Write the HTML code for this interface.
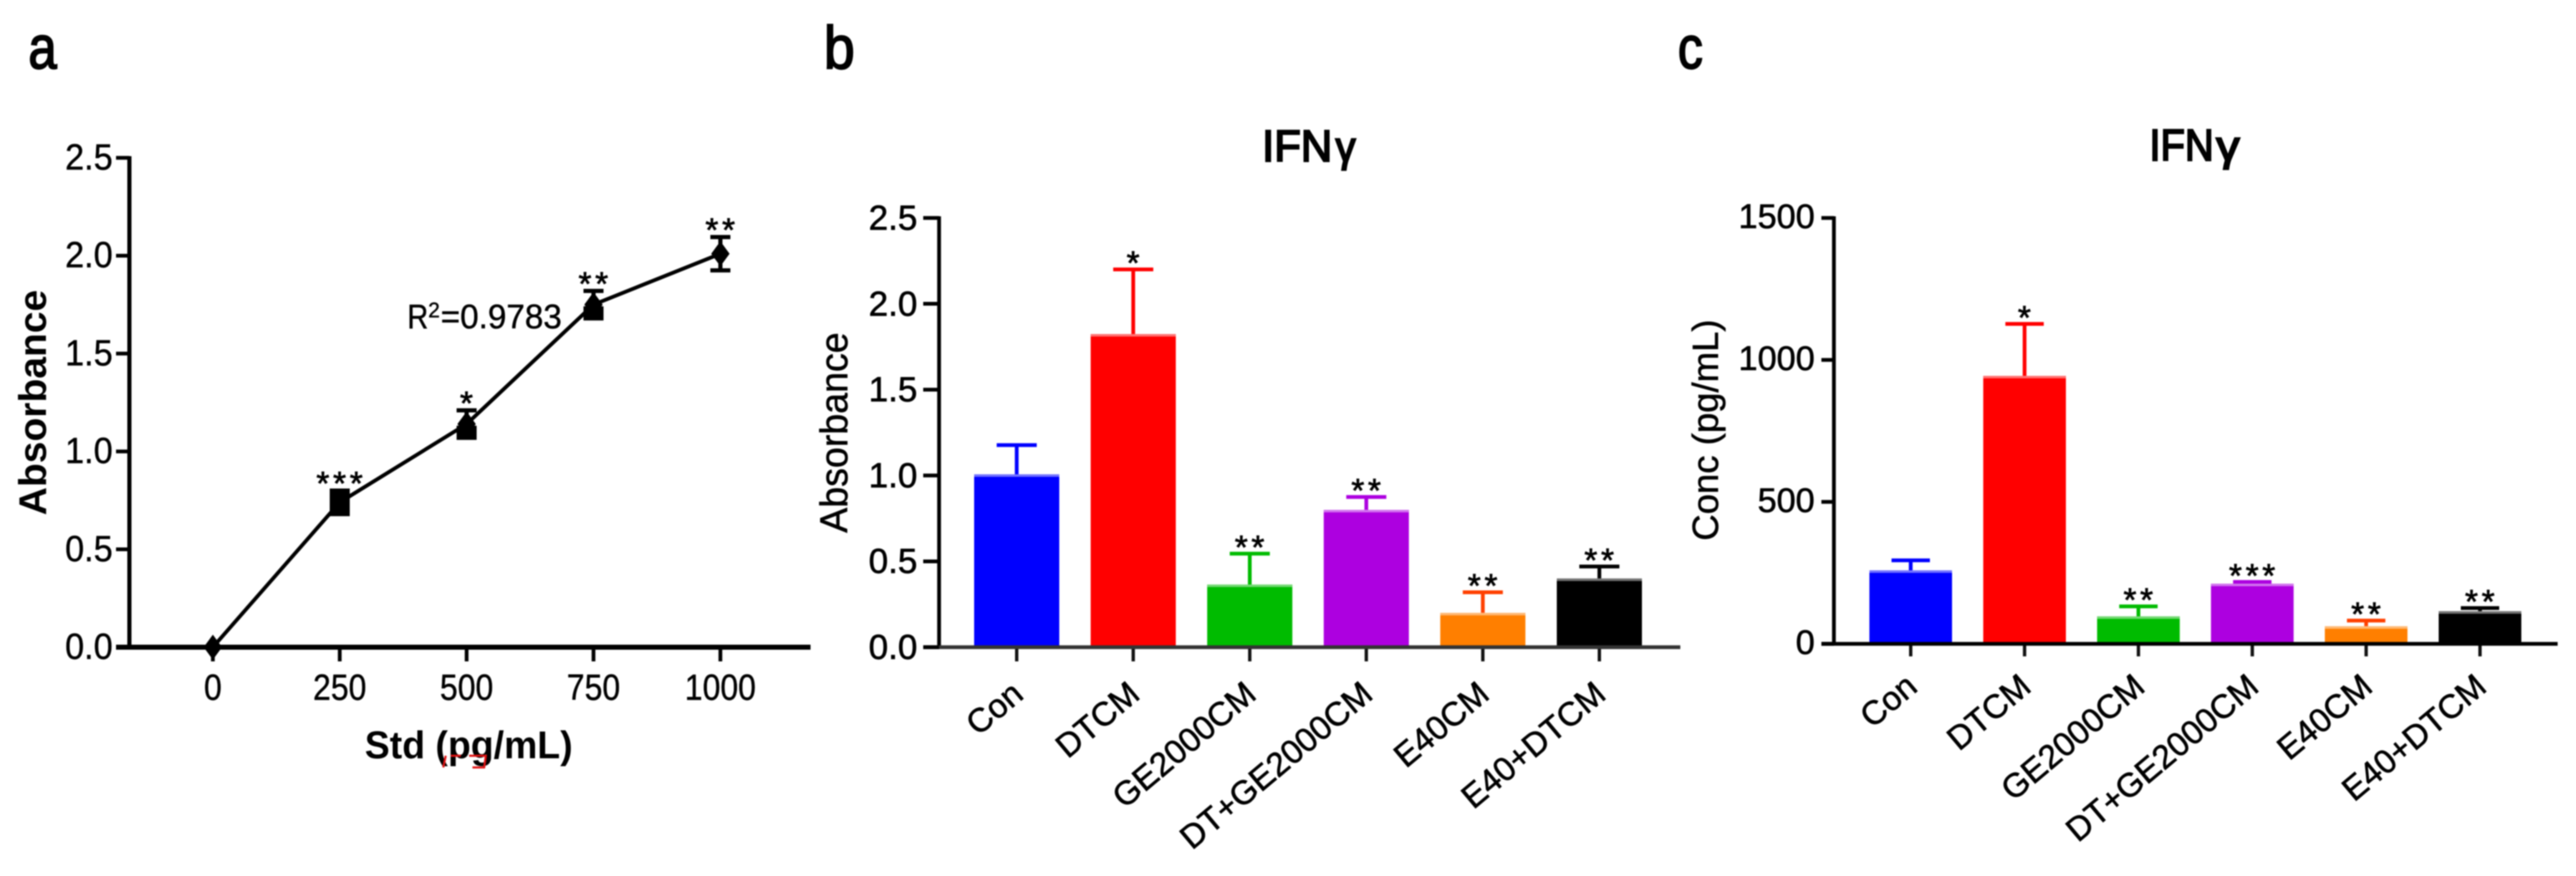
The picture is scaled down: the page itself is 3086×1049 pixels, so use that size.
<!DOCTYPE html>
<html lang="en">
<head>
<meta charset="utf-8">
<title>IFN-gamma absorbance and concentration charts</title>
<style>
html,body{margin:0;padding:0;background:#fff;width:3086px;height:1049px;overflow:hidden}
svg{display:block;filter:blur(0.7px)}
text{font-family:"Liberation Sans",sans-serif;fill:#000}
</style>
</head>
<body>
<svg id="figure" xmlns="http://www.w3.org/2000/svg" width="3086" height="1049" viewBox="0 0 3086 1049">
  <rect x="0" y="0" width="3086" height="1049" fill="#ffffff"/>
  <text x="34" y="82" font-size="72" stroke="#000" stroke-width="2" textLength="34" lengthAdjust="spacingAndGlyphs">a</text>
  <text x="987" y="82" font-size="72" stroke="#000" stroke-width="2" textLength="37" lengthAdjust="spacingAndGlyphs">b</text>
  <text x="2010" y="82" font-size="72" stroke="#000" stroke-width="2" textLength="30" lengthAdjust="spacingAndGlyphs">c</text>

  <text font-size="53" stroke="#000" stroke-width="2.2"><tspan x="1512" y="193" textLength="84" lengthAdjust="spacingAndGlyphs">IFN</tspan><tspan x="1600" y="193" font-size="50" textLength="24" lengthAdjust="spacingAndGlyphs">γ</tspan></text>
  <text font-size="53" stroke="#000" stroke-width="2.2"><tspan x="2575" y="192" textLength="77" lengthAdjust="spacingAndGlyphs">IFN</tspan><tspan x="2655" y="192" font-size="50" textLength="28" lengthAdjust="spacingAndGlyphs">γ</tspan></text>

  <text transform="translate(55 482) rotate(-90)" text-anchor="middle" font-size="46" font-weight="bold" textLength="270" lengthAdjust="spacingAndGlyphs">Absorbance</text>
  <text transform="translate(1015 518) rotate(-90)" text-anchor="middle" font-size="46" stroke="#000" stroke-width="0.6" textLength="240" lengthAdjust="spacingAndGlyphs">Absorbance</text>
  <text transform="translate(2058 515) rotate(-90)" text-anchor="middle" font-size="44" stroke="#000" stroke-width="0.6" textLength="265" lengthAdjust="spacingAndGlyphs">Conc (pg/mL)</text>

  <text x="437" y="908" font-size="46" font-weight="bold" textLength="249" lengthAdjust="spacingAndGlyphs">Std (pg/mL)</text>
  <path d="M531 919 L534 905 M540 905 L552 905 M562 905 L582 905 L580 919 L566 919" fill="none" stroke="#e01010" stroke-width="2.5"/>

  <text font-size="41" stroke="#000" stroke-width="0.5"><tspan x="488" y="393" textLength="25" lengthAdjust="spacingAndGlyphs">R</tspan><tspan x="513" y="380" font-size="25">2</tspan><tspan x="528" y="393" textLength="145" lengthAdjust="spacingAndGlyphs">=0.9783</tspan></text>

  <g id="chart-a"></g>
  <g id="chart-b"></g>
  <g id="chart-c"></g>
</svg>

<script>
// Chart a: standard curve
const stdLevels = [0, 250, 500, 750, 1000];
const stdAbsorbance = [0, 0.74, 1.14, 1.75, 2.01];
const stdError = [0, 0.06, 0.07, 0.07, 0.085];
const stdStars = ['', '***', '*', '**', '**'];
const stdYTicks = [0, 0.5, 1, 1.5, 2, 2.5];
const stdYTickLabels = ['0.0', '0.5', '1.0', '1.5', '2.0', '2.5'];
const stdXTickLabels = ['0', '250', '500', '750', '1000'];

// Charts b and c: shared categories
const groupNames = ['Con', 'DTCM', 'GE2000CM', 'DT+GE2000CM', 'E40CM', 'E40+DTCM'];

// Chart b values
const absMeans = [1.007, 1.824, 0.365, 0.80, 0.20, 0.40];
const absErrTops = [1.177, 2.20, 0.545, 0.875, 0.32, 0.47];
const absStars = ['', '*', '**', '**', '**', '**'];
const absTicks = [0, 0.5, 1, 1.5, 2, 2.5];
const absTickLabels = ['0.0', '0.5', '1.0', '1.5', '2.0', '2.5'];

// Chart c values
const concMeans = [259, 944, 97, 212, 62, 115];
const concErrTops = [294, 1127, 132, 218, 82, 126];
const concStars = ['', '*', '**', '***', '**', '**'];
const concTicks = [0, 500, 1000, 1500];
const concTickLabels = ['0', '500', '1000', '1500'];

// Palette
const barColors = ['#0000ff', '#ff0000', '#00bb00', '#ad00e0', '#ff7f00', '#000000'];
const errColors = ['#0000ff', '#ff0000', '#00bb00', '#ad00e0', '#ff4000', '#000000'];

const NS = 'http://www.w3.org/2000/svg';
function mk(parent, tag, props, content) {
  const el = document.createElementNS(NS, tag);
  for (const k in props) el.setAttribute(k, props[k]);
  if (content !== undefined) el.textContent = content;
  parent.appendChild(el);
  return el;
}
function slug(s) {
  return String(s).toLowerCase().replace(/[^a-z0-9]+/g, '-');
}

function drawCurve() {
  const g = document.getElementById('chart-a');
  const y = v => 775 - v * 234.4;
  const x = v => 255 + v * 0.608;

  const yAxis = mk(g, 'line', {x1: 155, x2: 155, y1: y(2.5) - 2, y2: y(0), stroke: '#000', 'stroke-width': 5});
  
  
  const xAxis = mk(g, 'line', {x1: 139, x2: 971, y1: y(0), y2: y(0), stroke: '#000', 'stroke-width': 6});
  
  

  stdYTicks.forEach((v, i) => {
    const tick = mk(g, 'line', {x1: 139, x2: 155, y1: y(v), y2: y(v), stroke: '#000', 'stroke-width': 4.5});
    
    
    const label = mk(g, 'text', {x: 135, y: y(v) + 14, 'text-anchor': 'end', 'font-size': 44, stroke: '#000', 'stroke-width': 0.5, textLength: 57, lengthAdjust: 'spacingAndGlyphs'}, stdYTickLabels[i]);
    
    
  });

  stdLevels.forEach((v, i) => {
    const tick = mk(g, 'line', {x1: x(v), x2: x(v), y1: y(0), y2: 792, stroke: '#000', 'stroke-width': 4.5});
    
    
    const text = stdXTickLabels[i];
    const label = mk(g, 'text', {x: x(v), y: 838, 'text-anchor': 'middle', 'font-size': 44, stroke: '#000', 'stroke-width': 0.5, textLength: text.length * 21.3, lengthAdjust: 'spacingAndGlyphs'}, text);
    
    
  });

  const pts = stdLevels.map((v, i) => x(v) + ',' + y(stdAbsorbance[i])).join(' ');
  const line = mk(g, 'polyline', {points: pts, fill: 'none', stroke: '#000', 'stroke-width': 4.5});
  
  

  stdLevels.forEach((v, i) => {
    const cx = x(v);
    const cy = y(stdAbsorbance[i]);
    const top = y(stdAbsorbance[i] + stdError[i]);
    const bot = y(stdAbsorbance[i] - stdError[i]);
    if (stdError[i] > 0) {
      const err = mk(g, 'path', {d: `M${cx - 12} ${top}H${cx + 12}M${cx} ${top}V${bot}M${cx - 12} ${bot}H${cx + 12}`, fill: 'none', stroke: '#000', 'stroke-width': 5});
      
      
      // Narrow error bars close up around the marker into a solid block.
      const fillTop = stdError[i] <= 0.06 ? top : cy + 2;
      const fillBot = stdError[i] <= 0.07 ? bot : cy + 2;
      const block = mk(g, 'rect', {x: cx - 12, y: fillTop, width: 24, height: fillBot - fillTop, fill: '#000'});
      
      
    }
    const marker = mk(g, 'path', {d: `M${cx} ${cy - 15}L${cx + 11} ${cy}L${cx} ${cy + 15}L${cx - 11} ${cy}Z`, fill: '#000'});
    
    
    if (stdStars[i]) {
      const star = mk(g, 'text', {x: cx + 2, y: top - 18 + 23, 'text-anchor': 'middle', 'font-size': 40, 'letter-spacing': 4.4, stroke: '#000', 'stroke-width': 0.8}, stdStars[i]);
      
      
    }
  });
}

function drawBars(id, opt, means, errTops, stars, ticks, tickLabels) {
  const g = document.getElementById(id);
  const y = v => opt.y0 - v * opt.unit;
  const x = i => opt.first + i * opt.step;

  means.forEach((m, i) => {
    const err = mk(g, 'path', {d: `M${x(i)} ${y(m)}V${y(errTops[i])}M${x(i) - opt.cap} ${y(errTops[i])}H${x(i) + opt.cap}`, fill: 'none', stroke: errColors[i], 'stroke-width': 4.5});
    
    
    const bar = mk(g, 'rect', {x: x(i) - opt.barW / 2, y: y(m), width: opt.barW, height: opt.y0 - y(m), fill: barColors[i]});
    
    
    const band = mk(g, 'rect', {x: x(i) - opt.barW / 2, y: y(m), width: opt.barW, height: 3, fill: '#ffffff', 'fill-opacity': 0.45});
    
    
    const tick = mk(g, 'line', {x1: x(i), x2: x(i), y1: opt.y0, y2: opt.y0 + opt.tickLen, stroke: '#111', 'stroke-width': 4});
    
    
    const px = x(i) + 10;
    const label = mk(g, 'text', {x: px, y: opt.labelY, 'text-anchor': 'end', 'font-size': 40, stroke: '#000', 'stroke-width': 0.7, transform: `rotate(-40 ${px} ${opt.labelY})`}, groupNames[i]);
    
    
    if (stars[i]) {
      const star = mk(g, 'text', {x: x(i) + 2, y: y(errTops[i]) - 17 + 23, 'text-anchor': 'middle', 'font-size': 40, 'letter-spacing': 4.4, stroke: '#000', 'stroke-width': 0.8}, stars[i]);
      
      
    }
  });

  const yAxis = mk(g, 'line', {x1: opt.axisX, x2: opt.axisX, y1: y(opt.max) - 2, y2: opt.y0, stroke: '#000', 'stroke-width': 4.5});
  
  
  const xAxis = mk(g, 'line', {x1: opt.xStart, x2: opt.xEnd, y1: opt.y0, y2: opt.y0, stroke: opt.xAxisColor, 'stroke-width': 4.5});
  
  

  ticks.forEach((v, i) => {
    const tick = mk(g, 'line', {x1: opt.xStart, x2: opt.axisX, y1: y(v), y2: y(v), stroke: '#000', 'stroke-width': 4.5});
    
    
    const label = mk(g, 'text', {x: opt.tickRight, y: y(v) + opt.tickDy, 'text-anchor': 'end', 'font-size': opt.tickSize, 'stroke': '#000', 'stroke-width': 0.7}, tickLabels[i]);
    
    
  });
}

drawCurve();
drawBars('chart-b', {y0: 775, unit: 205.6, max: 2.5, axisX: 1125, xStart: 1106, xEnd: 2013, first: 1218, step: 139.6, barW: 102, cap: 24, tickLen: 17, labelY: 835, tickRight: 1099, tickDy: 14, tickSize: 42, xAxisColor: '#333'}, absMeans, absErrTops, absStars, absTicks, absTickLabels);
drawBars('chart-c', {y0: 771, unit: 0.34, max: 1500, axisX: 2197, xStart: 2182, xEnd: 3064, first: 2289, step: 136.4, barW: 99, cap: 23, tickLen: 15, labelY: 826, tickRight: 2174, tickDy: 12, tickSize: 41, xAxisColor: '#000'}, concMeans, concErrTops, concStars, concTicks, concTickLabels);
</script>
</body>
</html>
